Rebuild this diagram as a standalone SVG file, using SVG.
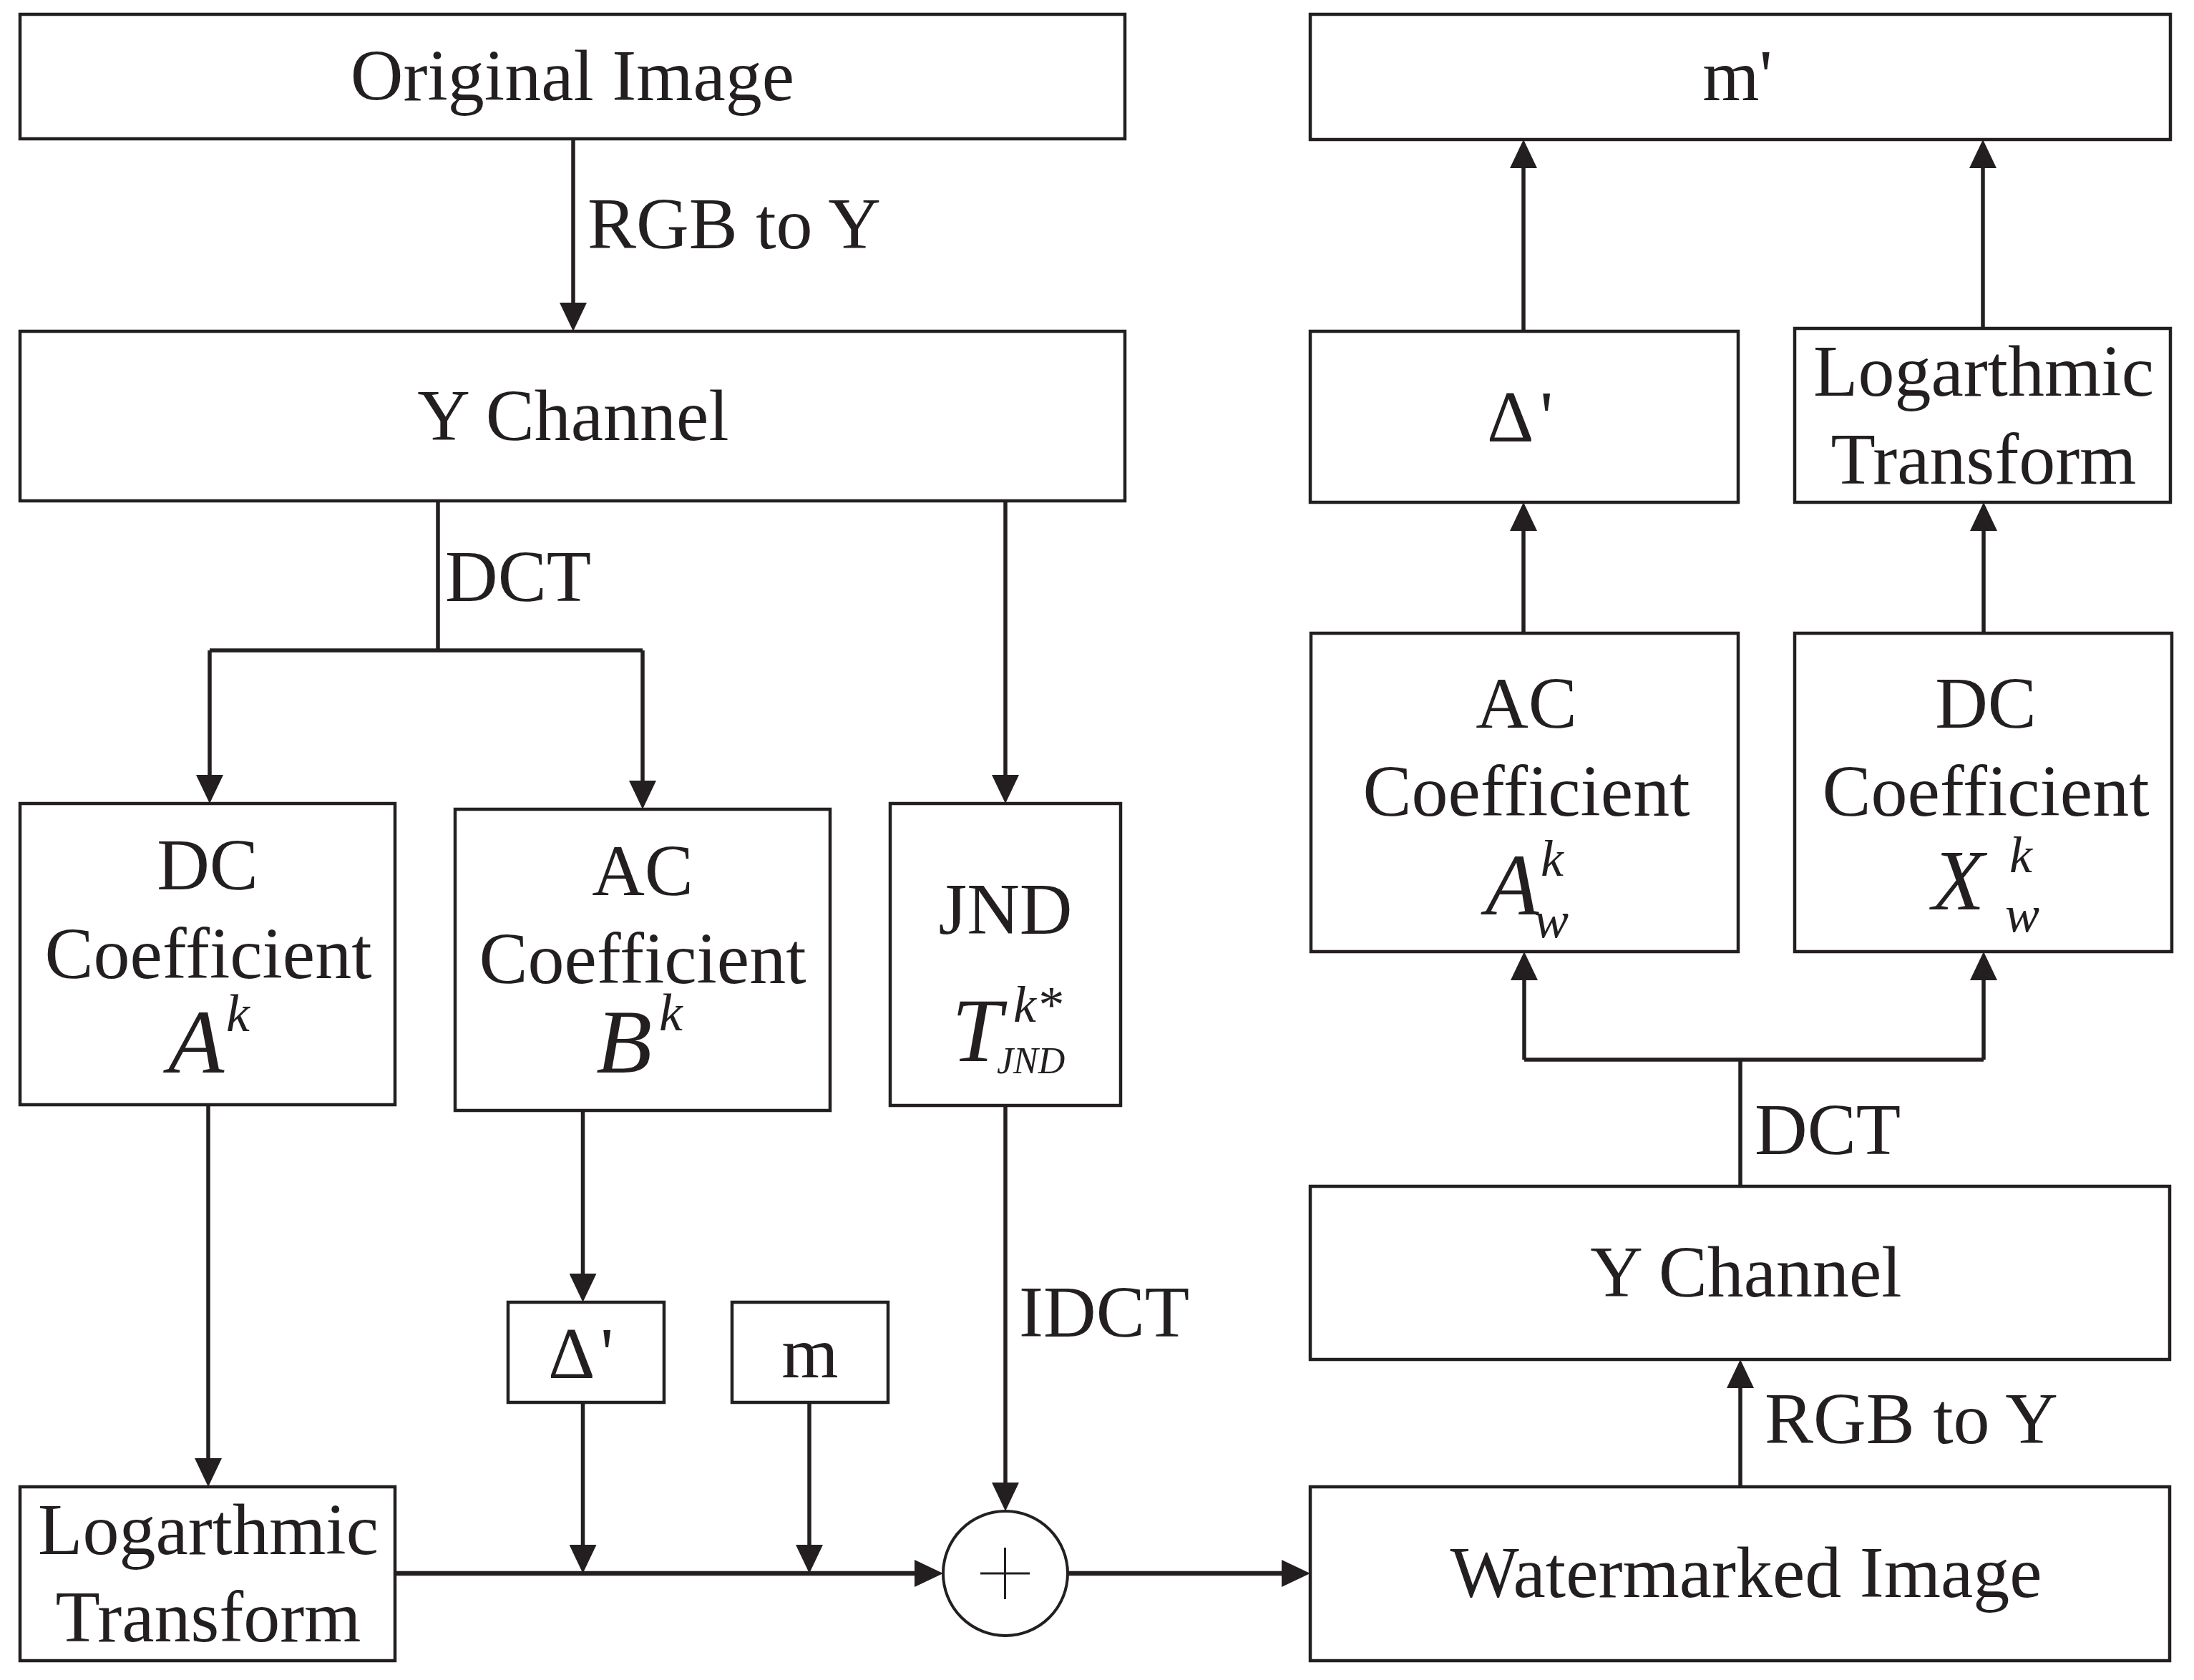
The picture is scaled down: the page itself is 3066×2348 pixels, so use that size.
<svg xmlns="http://www.w3.org/2000/svg" width="3066" height="2348" viewBox="0 0 3066 2348">
<style>
.box{fill:#fff;stroke:#231f20;stroke-width:4.5}
.ln{fill:none;stroke:#231f20;stroke-width:5.5}
.ln2{fill:none;stroke:#231f20;stroke-width:6.5}
.arr{marker-end:url(#ah)}
.t{font-family:"Liberation Serif","Times New Roman",serif;font-size:102px;fill:#231f20}
.c{text-anchor:middle}
.i{font-style:italic}
</style>
<defs>
<marker id="ah" viewBox="0 0 40 38" refX="20" refY="19" markerWidth="40" markerHeight="38" markerUnits="userSpaceOnUse" orient="auto">
<path d="M0,0 L40,19 L0,38 z" fill="#231f20"/>
</marker>
</defs>
<rect width="3066" height="2348" fill="#fff"/>

<g id="connectors">
<path class="ln arr" d="M801,194 V443"/>
<path class="ln" d="M612,700 V909"/>
<path class="ln" d="M293,909 H898"/>
<path class="ln arr" d="M293,909 V1103"/>
<path class="ln arr" d="M898,909 V1111"/>
<path class="ln arr" d="M1405,700 V1103"/>
<path class="ln arr" d="M291,1544 V2058"/>
<path class="ln arr" d="M814.5,1552 V1800"/>
<path class="ln arr" d="M814.5,1960 V2179"/>
<path class="ln arr" d="M1131,1960 V2179"/>
<path class="ln2 arr" d="M552,2199 H1298"/>
<path class="ln arr" d="M1405,1545 V2092"/>
<path class="ln2 arr" d="M1492,2199 H1811"/>
<path class="ln arr" d="M2432,2078 V1920"/>
<path class="ln" d="M2432,1658 V1481"/>
<path class="ln" d="M2130,1481 H2772"/>
<path class="ln arr" d="M2130,1481 V1350"/>
<path class="ln arr" d="M2772,1481 V1350"/>
<path class="ln arr" d="M2129,885 V722"/>
<path class="ln arr" d="M2772,885 V722"/>
<path class="ln arr" d="M2129,463 V215"/>
<path class="ln arr" d="M2771,459 V215"/>
<text class="t" x="821" y="347">RGB to Y</text>
<text class="t" x="622" y="840">DCT</text>
<text class="t" x="1424" y="1868">IDCT</text>
<text class="t" x="2466" y="2017">RGB to Y</text>
<text class="t" x="2452" y="1613">DCT</text>
</g>

<g id="original-image">
<rect class="box" x="28" y="20" width="1544" height="174"/>
<text class="t c" x="800" y="140">Original Image</text>
</g>

<g id="y-channel-left">
<rect class="box" x="28" y="463" width="1544" height="237"/>
<text class="t c" x="801" y="615">Y Channel</text>
</g>

<g id="dc-coefficient-left">
<rect class="box" x="28" y="1123" width="524" height="421"/>
<text class="t c" x="290" y="1243">DC</text>
<text class="t c" x="291" y="1367">Coefficient</text>
<text class="t i"><tspan x="235" y="1499" font-size="128">A</tspan><tspan x="316" y="1441" font-size="74">k</tspan></text>
</g>

<g id="ac-coefficient-left">
<rect class="box" x="636" y="1131" width="524" height="421"/>
<text class="t c" x="898" y="1251">AC</text>
<text class="t c" x="898" y="1374">Coefficient</text>
<text class="t i"><tspan x="833" y="1499" font-size="128">B</tspan><tspan x="921" y="1440" font-size="74">k</tspan></text>
</g>

<g id="jnd">
<rect class="box" x="1244" y="1123" width="322" height="422"/>
<text class="t c" x="1405" y="1305">JND</text>
<text class="t i"><tspan x="1330" y="1483" font-size="126">T</tspan><tspan x="1416" y="1428" font-size="72">k*</tspan><tspan x="1393" y="1500" font-size="52">JND</tspan></text>
</g>

<g id="log-transform-left">
<rect class="box" x="28" y="2078" width="524" height="243"/>
<text class="t c" x="291" y="2172">Logarthmic</text>
<text class="t c" x="291" y="2294">Transform</text>
</g>

<g id="delta-prime-left">
<rect class="box" x="710" y="1820" width="218" height="140"/>
<text class="t"><tspan x="766" y="1926">Δ</tspan><tspan x="839" y="1926">'</tspan></text>
</g>

<g id="m-input">
<rect class="box" x="1023" y="1820" width="218" height="140"/>
<text class="t c" x="1132" y="1925">m</text>
</g>

<g id="adder">
<circle cx="1405" cy="2199" r="87" fill="#fff" stroke="#231f20" stroke-width="4"/>
<path d="M1370,2199 H1439 M1404.5,2163 V2235" stroke="#231f20" stroke-width="3" fill="none"/>
</g>

<g id="m-prime">
<rect class="box" x="1831" y="20" width="1202" height="175"/>
<text class="t c" x="2428" y="140">m'</text>
</g>

<g id="delta-prime-right">
<rect class="box" x="1831" y="463" width="598" height="239"/>
<text class="t"><tspan x="2078" y="617">Δ</tspan><tspan x="2152" y="617">'</tspan></text>
</g>

<g id="log-transform-right">
<rect class="box" x="2508" y="459" width="525" height="243"/>
<text class="t c" x="2772" y="553">Logarthmic</text>
<text class="t c" x="2772" y="676">Transform</text>
</g>

<g id="ac-coefficient-right">
<rect class="box" x="1832" y="885" width="597" height="445"/>
<text class="t c" x="2133" y="1017">AC</text>
<text class="t c" x="2133" y="1140">Coefficient</text>
<text class="t i"><tspan x="2076" y="1278" font-size="122">A</tspan><tspan x="2153" y="1224" font-size="72">k</tspan><tspan x="2144" y="1310" font-size="72">w</tspan></text>
</g>

<g id="dc-coefficient-right">
<rect class="box" x="2508" y="885" width="527" height="445"/>
<text class="t c" x="2775" y="1017">DC</text>
<text class="t c" x="2775" y="1140">Coefficient</text>
<text class="t i"><tspan x="2700" y="1271" font-size="120">X</tspan><tspan x="2808" y="1219" font-size="72">k</tspan><tspan x="2802" y="1302" font-size="72">w</tspan></text>
</g>

<g id="y-channel-right">
<rect class="box" x="1831" y="1658" width="1201" height="242"/>
<text class="t c" x="2440" y="1812">Y Channel</text>
</g>

<g id="watermarked-image">
<rect class="box" x="1831" y="2078" width="1201" height="243"/>
<text class="t c" x="2440" y="2232">Watermarked Image</text>
</g>
</svg>
